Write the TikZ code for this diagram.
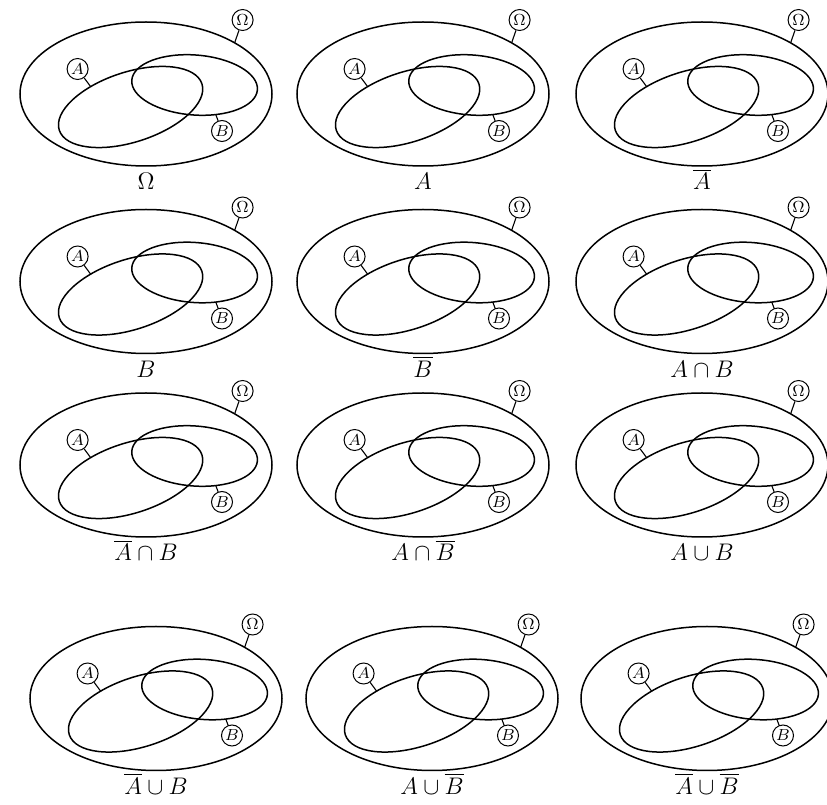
\documentclass[tikz,border=0pt]{standalone}
\usetikzlibrary{shapes.geometric}
\usepackage{amsmath}
\usepackage{amssymb}

\begin{document}
\begin{tikzpicture}[x=1pt,y=1pt,
  set/.style={draw, ellipse, line width=0.75pt, inner sep=0pt, outer sep=0pt},
  tag/.style={draw, circle, line width=0.5pt, inner sep=0pt, minimum size=10.5pt, font=\fontsize{8.5}{10}\selectfont},
  tagline/.style={line width=0.55pt},
  caption/.style={anchor=base, font=\large}]
\useasboundingbox (0,0) rectangle (413.5,402.5);
% one panel per set expression
\foreach \i/\px/\py/\lab in {
  1/73/355.5/{$\Omega$}, 2/211.5/355.5/{$A$}, 3/351/355.5/{$\overline{A}$},
  4/73/261.75/{$B$}, 5/211.5/261.75/{$\overline{B}$}, 6/351/261.75/{$A\cap B$},
  7/73/170/{$\overline{A}\cap B$}, 8/211.5/170/{$A\cap\overline{B}$}, 9/351/170/{$A\cup B$},
  10/78/53.25/{$\overline{A}\cup B$}, 11/216/53.25/{$A\cup\overline{B}$}, 12/353.5/53.25/{$\overline{A}\cup\overline{B}$}}{
\begin{scope}[shift={(\px,\py)}]
\node[set, minimum width=126pt, minimum height=72pt] (om\i) at (0,0) {};
\node[set, minimum width=75pt, minimum height=35pt, rotate=18] (ea\i) at (-7.7,-6.5) {};
\node[set, minimum width=63pt, minimum height=30pt, rotate=-4.4] (eb\i) at (24.3,4.5) {};
\node[tag] (tom\i) at (48.3,37) {$\Omega$};
\node[tag] (ta\i) at (-34.2,12.5) {$A$};
\node[tag] (tb\i) at (38,-18.5) {$B$};
\draw[tagline] (tom\i) -- (om\i.30);
\draw[tagline] (ta\i) -- (ea\i.135);
\draw[tagline] (tb\i) -- (eb\i.-50);
\node[caption] (cap\i) at (0,-48) {\lab};
\end{scope}
}
\end{tikzpicture}
\end{document}
